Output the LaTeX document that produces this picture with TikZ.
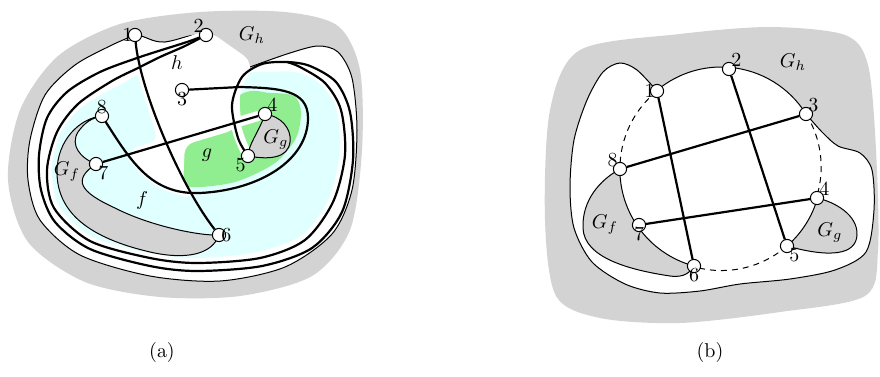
\documentclass[tikz,border=0pt]{standalone}
\usepackage{xcolor}
\definecolor{cGray}{HTML}{D3D3D3}
\definecolor{cCyan}{HTML}{E0FFFF}
\definecolor{cGreen}{HTML}{90EE90}
\usetikzlibrary{positioning,calc}
\pgfdeclarelayer{bg}
\pgfdeclarelayer{edges}
\pgfsetlayers{bg,edges,main}
\tikzset{
  vtx/.style={draw,circle,fill=white,minimum size=6.6pt,inner sep=0pt,line width=0.5pt},
  edge-thick/.style={line width=1.1pt},
  edge-thin/.style={line width=0.5pt},
  edge-dash/.style={line width=0.5pt,dash pattern=on 3pt off 2.5pt},
  gap/.style={draw=white,line width=5pt,line cap=round},
  lbl/.style={inner sep=1pt},
}

\begin{document}
\begin{tikzpicture}[x=0.5pt,y=-0.5pt]
  \useasboundingbox (0,0) rectangle (880,376);

  % ---------- (a) ----------
  \node[vtx] (a1) at (135,35) {};
  \node[vtx] (a2) at (206,35) {};
  \node[vtx] (a3) at (182,90) {};
  \node[vtx] (a4) at (265,114) {};
  \node[vtx] (a5) at (248,156) {};
  \node[vtx] (a6) at (219,235) {};
  \node[vtx] (a7) at (96,164) {};
  \node[vtx] (a8) at (102,116) {};
  \node[lbl,left] at (a1) {1};
  \node[lbl,above left] at (a2) {2};
  \node[lbl,below] at (a3) {3};
  \node[lbl,above right] at (a4) {4};
  \node[lbl,below left] at (a5) {5};
  \node[lbl,right] at (a6) {6};
  \node[lbl,below right] at (a7) {7};
  \node[lbl,above] at (a8) {8};
  \node[lbl] at (252,35) {$G_h$};
  \node[lbl] at (67,172) {$G_f$};
  \node[lbl] at (276,140) {$G_g$};
  \node[lbl] at (177,63) {$h$};
  \node[lbl] at (207,155) {$g$};
  \node[lbl] at (142,200) {$f$};
  \node at (162,352) {(a)};

  \begin{pgfonlayer}{bg}
    \fill[cGray] plot[smooth cycle] coordinates {(8,180) (20,110) (58,56)
      (120,24) (200,12) (285,12) (338,26) (360,70) (362,150) (350,230)
      (312,276) (240,296) (160,297) (85,282) (28,242)};
    \draw[edge-thin,fill=white] (a1.center) -- plot[smooth] coordinates {(135,35)
      (112,45) (75,65) (45,95) (30,140) (28,180) (40,220) (80,255) (150,276)
      (220,281) (285,267) (332,234) (352,190) (357,130) (352,78) (338,52)
      (318,46) (290,53) (250,67) (215,80) (182,90)}
      .. controls (197,77) and (207,60) .. (a2.center)
      .. controls (190,33) and (180,40) .. (165,42)
      .. controls (152,43) and (145,35) .. (a1.center) -- cycle;
    \fill[cCyan] plot[smooth cycle] coordinates {(118,86) (82,107) (60,134)
      (52,170) (59,206) (93,237) (150,253) (197,258) (257,252) (302,235)
      (329,198) (340,150) (336,108) (320,84) (295,72) (250,72) (160,68)};
    % face g
    \fill[cGreen] plot[smooth cycle] coordinates {(178,150) (176,175)
      (190,187) (235,182) (275,163) (296,138) (301,112) (294,96) (270,93)
      (240,95)};
    % face h
    \fill[white,draw=white,line width=5pt,rounded corners=6pt]
      (139,62) -- (206,35) -- (250,66) -- (236,84) -- (234,108) -- (237,124)
      -- (180,141) -- (178,188) -- (188,193) -- (157,182) -- (129,154)
      -- (164,144) -- cycle;
    \draw[gap] (175,141) -- (258,116);
    \draw[gap] (235,83) .. controls (229,105) and (236,135) .. (248,156);
    % G_f and G_g
    \draw[edge-thin,fill=cGray] (a8.center) .. controls (80,118) and (57,140) ..
      (57,172) .. controls (57,213) and (90,238) .. (150,252)
      .. controls (185,260) and (212,255) .. (a6.center)
      .. controls (200,236) and (150,226) .. (115,208)
      .. controls (80,192) and (72,180) .. (a7.center)
      .. controls (80,158) and (70,145) .. (78,132)
      .. controls (85,122) and (92,118) .. (a8.center) -- cycle;
    \draw[edge-thin,fill=cGray] (a4.center) .. controls (280,116) and (292,128) ..
      (290,142) .. controls (288,158) and (270,160) .. (a5.center)
      .. controls (248,145) and (260,130) .. (a4.center) -- cycle;
  \end{pgfonlayer}

  \begin{pgfonlayer}{edges}
    \draw[edge-thick] (a1) .. controls (140,90) and (180,185) .. (a6);
    \draw[edge-thick] (a7) -- (a4);
    \draw[edge-thick] (a8.center) .. controls (130,160) and (150,195) .. (200,193)
      .. controls (260,190) and (308,160) .. (308,118)
      .. controls (308,90) and (280,88) .. (240,87) -- (a3.center);
    % the two parallel edges 2-5
    \draw[edge-thick] plot[smooth] coordinates {(206,35) (187,42)
      (140,57) (100,72) (67,92) (47,118) (39,155) (41,190) (55,222) (90,249)
      (150,266) (197,271) (262,266) (312,248) (342,212) (353,160) (350,112)
      (336,82) (310,66) (287,62) (262,64) (242,77) (232,105) (238,138) (248,156)};
    \draw[edge-thick] plot[smooth] coordinates {(206,35) (185,46) (160,57)
      (138,68) (112,81) (78,104) (57,132) (47,170) (54,208) (90,241)
      (150,258) (197,263) (260,258) (305,240) (333,202) (345,155) (341,110)
      (325,83) (300,67) (287,62)};
  \end{pgfonlayer}

  % ---------- (b) ----------
  \node[vtx] (b1) at (657,91) {};
  \node[vtx] (b2) at (729,69) {};
  \node[vtx] (b3) at (806,114) {};
  \node[vtx] (b4) at (817,198) {};
  \node[vtx] (b5) at (787,246) {};
  \node[vtx] (b6) at (694,266) {};
  \node[vtx] (b7) at (639,225) {};
  \node[vtx] (b8) at (620,169) {};
  \node[lbl,left] at (b1) {1};
  \node[lbl,above right] at (b2) {2};
  \node[lbl,above right] at (b3) {3};
  \node[lbl,above right] at (b4) {4};
  \node[lbl,below right] at (b5) {5};
  \node[lbl,below] at (b6) {6};
  \node[lbl,below] at (b7) {7};
  \node[lbl,above left] at (b8) {8};
  \node[lbl] at (793,62) {$G_h$};
  \node[lbl] at (605,225) {$G_f$};
  \node[lbl] at (830,233) {$G_g$};
  \node at (710,352) {(b)};

  \begin{pgfonlayer}{bg}
    \fill[cGray] plot[smooth cycle] coordinates {(580,50) (680,34) (770,27)
      (845,35) (868,65) (876,150) (878,250) (865,296) (780,312) (680,323)
      (600,318) (556,296) (545,220) (550,110)};
    \draw[edge-thin,fill=white] (b1.center) -- plot[smooth] coordinates {(657,91)
      (637,70) (620,63) (603,72) (587,100) (574,140) (570,187) (574,228)
      (592,262) (625,284) (660,293) (700,291) (740,284) (790,279) (835,270)
      (866,252) (874,210) (872,170) (860,153) (838,146) (822,132) (806,114)}
      arc[start angle=-32,end angle=-85,radius=100]
      arc[start angle=-85,end angle=-129,radius=100];
    \draw[edge-thin,fill=cGray] (b8.center) .. controls (600,180) and (582,200) ..
      (583,228) .. controls (584,258) and (630,270) .. (670,276)
      .. controls (685,278) and (690,272) .. (b6.center)
      arc[start angle=105,end angle=145,radius=100]
      arc[start angle=145,end angle=180,radius=100] -- cycle;
    \draw[edge-thin,fill=cGray] (b4.center) .. controls (835,202) and (858,215) ..
      (857,235) .. controls (856,255) and (830,258) .. (b5.center)
      arc[start angle=49,end angle=17,radius=100] -- cycle;
  \end{pgfonlayer}

  \begin{pgfonlayer}{edges}
    \draw[edge-dash] (b1.center) arc[start angle=-129,end angle=-180,radius=100];
    \draw[edge-dash] (b3.center) arc[start angle=-32,end angle=17,radius=100];
    \draw[edge-dash] (b5.center) arc[start angle=49,end angle=105,radius=100];
    \draw[edge-thick] (b1) -- (b6);
    \draw[edge-thick] (b2) -- (b5);
    \draw[edge-thick] (b3) -- (b8);
    \draw[edge-thick] (b4) -- (b7);
  \end{pgfonlayer}
\end{tikzpicture}
\end{document}
